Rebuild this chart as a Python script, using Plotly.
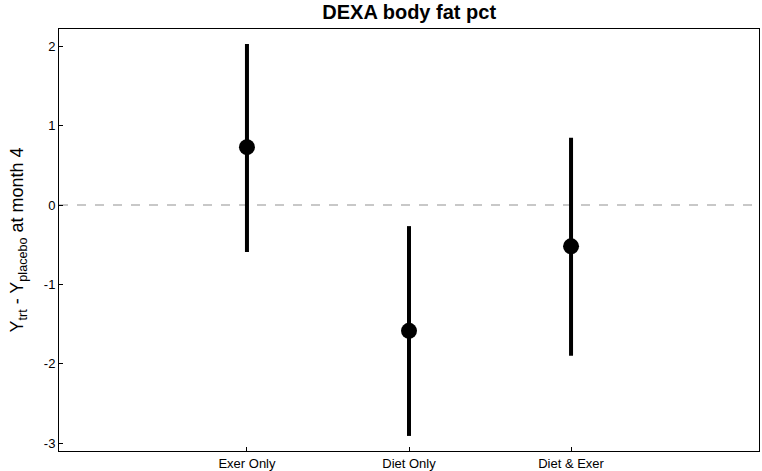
import plotly.graph_objects as go

categories = ["Exer Only", "Diet Only", "Diet & Exer"]
positions = [1, 2, 3]
estimates = [0.73, -1.585, -0.52]
lower = [-0.59, -2.91, -1.90]
upper = [2.03, -0.265, 0.85]
y_ticks = [-3, -2, -1, 0, 1, 2]
y_tick_labels = ["-3", "-2", "-1", "0", "1", "2"]

fig = go.Figure()

# CI segments
xs, ys = [], []
for p, lo, hi in zip(positions, lower, upper):
    xs += [p, p, None]
    ys += [lo, hi, None]
fig.add_trace(go.Scatter(x=xs, y=ys, mode="lines",
                         line=dict(color="black", width=4), showlegend=False, hoverinfo="skip"))
fig.add_trace(go.Scatter(x=positions, y=estimates, mode="markers",
                         marker=dict(color="black", size=16), showlegend=False))

fig.add_hline(y=0, line=dict(color="#c8c8c8", width=2, dash="dash"), layer="below")

fig.update_layout(
    width=762, height=471,
    margin=dict(l=59, r=3, t=29, b=20),
    paper_bgcolor="white", plot_bgcolor="white",
    font=dict(family="Liberation Sans, Arial, sans-serif", color="black", size=12),
    title=dict(text="<b>DEXA body fat pct</b>", x=0.537, xanchor="center", y=0.975, yanchor="middle",
               font=dict(size=20, color="black")),
    xaxis=dict(range=[-0.16, 4.16], tickvals=positions, ticktext=categories,
               showgrid=False, zeroline=False, showline=True, linecolor="black", linewidth=1,
               mirror=True, ticks="inside", ticklen=4, tickcolor="black",
               tickfont=dict(size=13), automargin=False),
    yaxis=dict(range=[-3.10, 2.22], tickvals=y_ticks, ticktext=y_tick_labels,
               showgrid=False, zeroline=False, showline=True, linecolor="black", linewidth=1,
               mirror=True, ticks="inside", ticklen=4, tickcolor="black",
               tickfont=dict(size=13), automargin=False,
               title=dict(text="Y<sub>trt</sub> - Y<sub>placebo</sub> at month 4",
                          font=dict(size=18), standoff=15)),
)

fig.write_html("out.html", config={"displayModeBar": False},
               post_script="document.body.style.margin='0';document.body.style.overflow='hidden';")
